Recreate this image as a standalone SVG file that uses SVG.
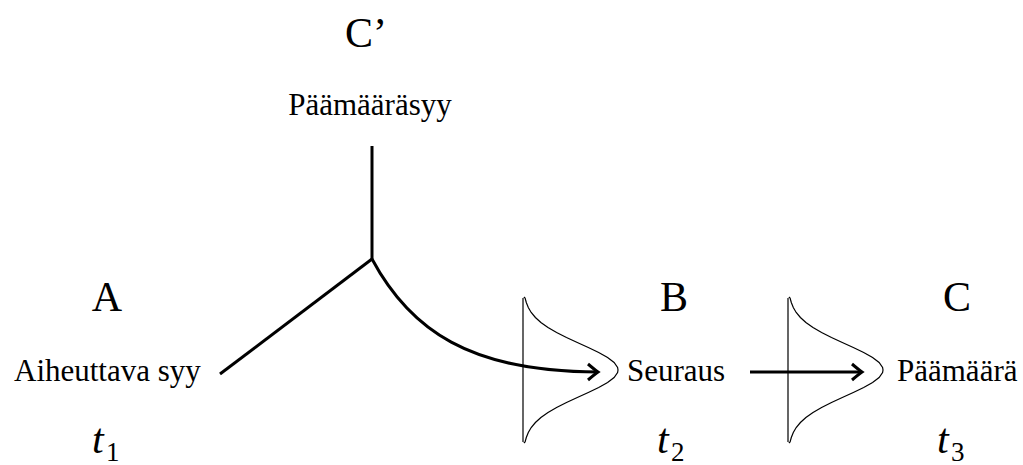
<svg xmlns="http://www.w3.org/2000/svg" width="1023" height="465" viewBox="0 0 1023 465">
<style>
.big{font-family:"Liberation Serif",serif;font-size:42px;fill:#000;text-anchor:middle}
.lbl{font-family:"Liberation Serif",serif;font-size:31px;fill:#000}
.t{font-family:"Liberation Serif",serif;font-size:42px;font-style:italic;fill:#000}
.sub{font-family:"Liberation Serif",serif;font-size:27px;fill:#000}
.thick{fill:none;stroke:#000;stroke-width:3;stroke-linecap:butt}
.thin{fill:none;stroke:#000;stroke-width:1.2}
</style>
<defs>
<path id="bell" class="thin" d="M0,-72 L0,72 M0.8,-73 L2.1,-72 L3.3,-67.5 L5.3,-62.5 L8.2,-57.5 L12.4,-52.5 L17.9,-47.5 L25,-42.5 L33.6,-37.5 L43.5,-32.5 L54.3,-27.5 L65.3,-22.5 L75.7,-17.5 L84.6,-12.5 L91.1,-7.5 L94.6,-2.5 L95,0 L94.6,2.5 L91.1,7.5 L84.6,12.5 L75.7,17.5 L65.3,22.5 L54.3,27.5 L43.5,32.5 L33.6,37.5 L25,42.5 L17.9,47.5 L12.4,52.5 L8.2,57.5 L5.3,62.5 L3.3,67.5 L2.1,72 L0.8,73"/>
</defs>
<g id="nodeCprime">
<text class="big" x="366" y="47">C’</text>
<text class="lbl" x="370" y="115" text-anchor="middle">Päämääräsyy</text>
</g>
<g id="nodeA">
<text class="big" x="107" y="311">A</text>
<text class="lbl" x="14" y="381">Aiheuttava syy</text>
<text class="t" x="92" y="453">t</text><text class="sub" x="106" y="461">1</text>
</g>
<g id="nodeB">
<use href="#bell" x="523" y="370"/>
<text class="big" x="674" y="311">B</text>
<text class="lbl" x="627" y="381">Seuraus</text>
<text class="t" x="657" y="453">t</text><text class="sub" x="671" y="461">2</text>
</g>
<g id="nodeC">
<use href="#bell" x="788" y="370"/>
<text class="big" x="957" y="311">C</text>
<text class="lbl" x="897" y="381">Päämäärä</text>
<text class="t" x="937" y="453">t</text><text class="sub" x="951" y="461">3</text>
</g>
<g id="connectors">
<path class="thick" d="M372,146 L372,259"/>
<path class="thick" d="M372,259 L220,374"/>
<path class="thick" d="M372,259 C410,330 470,372 598,372"/>
<path class="thick" d="M588,364 Q595,370 598,372 Q595,374 588,380"/>
<path class="thick" d="M750,372 L862,372"/>
<path class="thick" d="M852,364 Q859,370 862,372 Q859,374 852,380"/>
</g>
</svg>
